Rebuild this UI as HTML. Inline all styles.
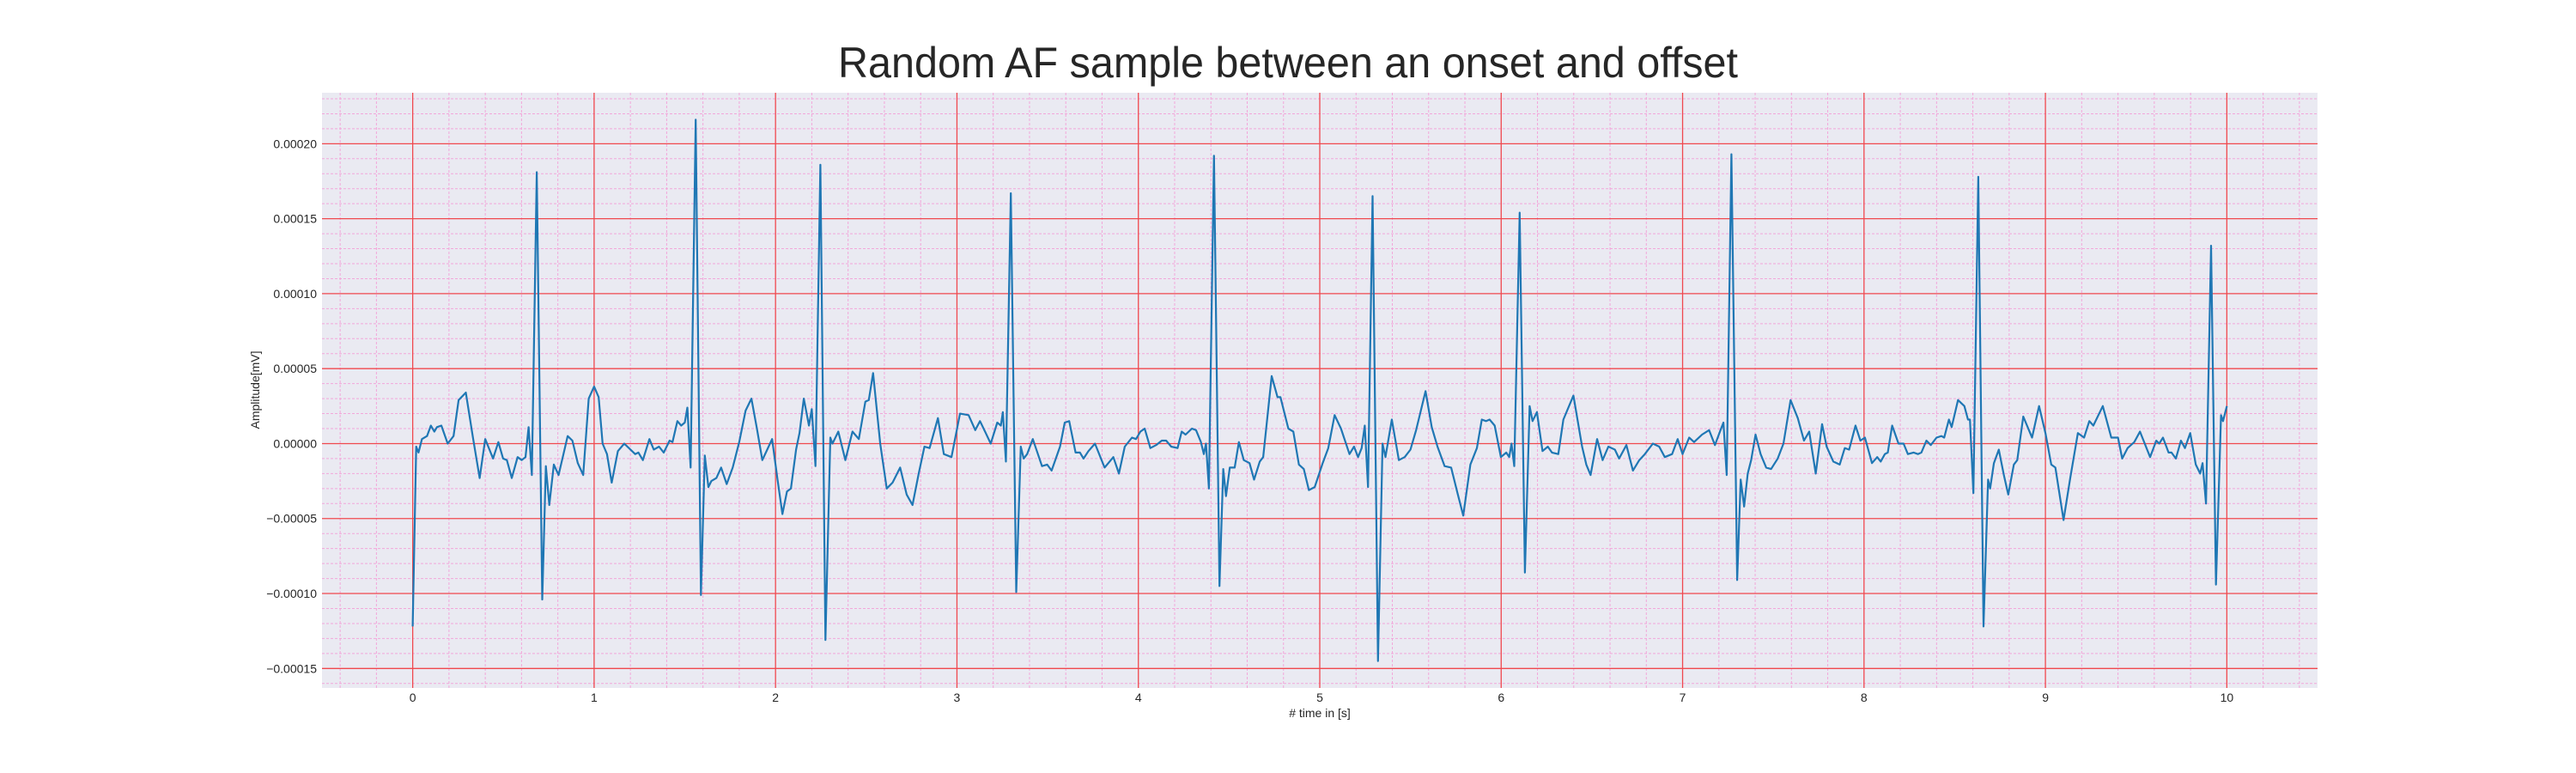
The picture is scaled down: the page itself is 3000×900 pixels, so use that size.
<!DOCTYPE html>
<html><head><meta charset="utf-8">
<style>
html,body{margin:0;padding:0;background:#fff;}
svg{display:block;font-family:"Liberation Sans",Arial,sans-serif;}
</style></head>
<body>
<svg id="chart" width="3000" height="900" viewBox="0 0 3000 900" xmlns="http://www.w3.org/2000/svg">
<text x="1500" y="90" text-anchor="middle" font-size="50" fill="#262626" textLength="1048" lengthAdjust="spacingAndGlyphs">Random AF sample between an onset and offset</text>
<rect x="375" y="108" width="2324" height="693" fill="#EAEAF2"/>
<g id="grid"></g>
<g id="ticks"></g>
<g id="series"></g>
<text transform="translate(302,454) rotate(-90)" text-anchor="middle" font-size="14" fill="#262626">Amplitude[mV]</text>
<text x="1537" y="835" text-anchor="middle" font-size="14" fill="#262626"># time in [s]</text>
</svg>
<script>
// data (time in s, amplitude in 1e-5 mV)
const times = [0,0.019,0.032,0.051,0.079,0.1,0.119,0.134,0.158,0.193,0.225,0.253,0.293,0.332,0.369,0.4,0.443,0.472,0.498,0.519,0.546,0.578,0.601,0.622,0.639,0.657,0.684,0.714,0.734,0.753,0.778,0.804,0.831,0.854,0.88,0.91,0.94,0.97,1.0,1.025,1.047,1.071,1.097,1.131,1.166,1.226,1.244,1.269,1.305,1.329,1.358,1.384,1.416,1.432,1.459,1.48,1.5,1.514,1.532,1.56,1.589,1.61,1.63,1.646,1.674,1.7,1.731,1.764,1.8,1.835,1.867,1.896,1.927,1.954,1.981,
2.011,2.038,2.063,2.085,2.113,2.132,2.156,2.184,2.2,2.22,2.247,2.275,2.302,2.314,2.346,2.385,2.424,2.459,2.495,2.514,2.538,2.577,2.613,2.645,2.687,2.723,2.755,2.789,2.821,2.849,2.895,2.928,2.97,3.017,3.064,3.101,3.127,3.159,3.186,3.222,3.242,3.253,3.27,3.297,3.327,3.352,3.368,3.387,3.418,3.469,3.497,3.522,3.568,3.594,3.619,3.654,3.678,3.698,3.725,3.761,3.814,3.862,3.893,3.925,3.965,3.987,
4.011,4.035,4.066,4.098,4.129,4.153,4.181,4.216,4.239,4.26,4.295,4.318,4.345,4.361,4.373,4.389,4.417,4.447,4.468,4.483,4.504,4.531,4.554,4.581,4.613,4.638,4.669,4.688,4.735,4.767,4.783,4.827,4.854,4.885,4.912,4.94,4.972,5.016,5.047,5.082,5.117,5.164,5.189,5.211,5.231,5.248,5.266,5.291,5.321,5.346,5.362,5.397,5.436,5.468,5.5,5.531,5.583,5.617,5.649,5.688,5.724,5.759,5.791,5.83,5.866,5.893,5.917,5.936,5.964,5.998,
6.028,6.044,6.057,6.072,6.102,6.131,6.157,6.173,6.197,6.228,6.257,6.28,6.315,6.343,6.398,6.446,6.469,6.493,6.529,6.559,6.591,6.627,6.65,6.69,6.726,6.761,6.792,6.836,6.871,6.902,6.942,6.973,7.0,7.036,7.063,7.107,7.146,7.178,7.209,7.225,7.243,7.269,7.301,7.32,7.339,7.359,7.378,7.402,7.43,7.461,7.488,7.524,7.556,7.595,7.635,7.669,7.698,7.734,7.769,7.794,7.831,7.866,7.894,7.918,7.953,7.98,8.005,
8.044,8.073,8.092,8.115,8.131,8.155,8.19,8.218,8.242,8.273,8.297,8.316,8.344,8.368,8.4,8.427,8.442,8.468,8.483,8.518,8.553,8.573,8.584,8.603,8.63,8.659,8.684,8.695,8.716,8.743,8.771,8.795,8.826,8.845,8.878,8.926,8.965,9.0,9.032,9.055,9.1,9.137,9.179,9.213,9.242,9.264,9.316,9.363,9.4,9.423,9.453,9.49,9.521,9.577,9.611,9.627,9.648,9.679,9.695,9.719,9.747,9.769,9.798,9.829,9.853,9.866,9.885,9.913,9.94,9.968,9.979,10.0];
const amps = [-12.2,-0.2,-0.6,0.3,0.5,1.2,0.8,1.1,1.2,0,0.5,2.9,3.4,0.4,-2.3,0.3,-1.0,0.1,-1.0,-1.1,-2.3,-0.9,-1.1,-0.9,1.1,-2.1,18.1,-10.4,-1.5,-4.1,-1.4,-2.1,-0.7,0.5,0.2,-1.3,-2.1,3.0,3.8,3.1,0,-0.7,-2.6,-0.5,0,-0.7,-0.6,-1.1,0.3,-0.4,-0.2,-0.6,0.2,0.1,1.5,1.2,1.4,2.4,-1.6,21.6,-10.1,-0.8,-2.9,-2.5,-2.3,-1.6,-2.7,-1.6,0.1,2.2,3.0,1.1,-1.1,-0.4,0.3,
-2.4,-4.7,-3.2,-3.0,-0.4,0.7,3.0,1.2,2.3,-1.5,18.6,-13.1,0.4,0,0.8,-1.1,0.8,0.3,2.8,2.9,4.7,0,-3.0,-2.6,-1.6,-3.4,-4.1,-2.0,-0.2,-0.3,1.7,-0.7,-0.9,2.0,1.9,0.9,1.5,0.7,0,1.4,1.2,2.1,-1.2,16.7,-9.9,-0.2,-1.0,-0.7,0.3,-1.5,-1.4,-1.8,-0.2,1.4,1.5,-0.6,-0.6,-1.0,-0.5,0,-1.6,-0.9,-2.0,-0.2,0.4,0.3,
0.8,1.0,-0.3,-0.1,0.2,0.2,-0.2,-0.3,0.8,0.6,1.0,0.9,0.1,-0.7,0,-3.0,19.2,-9.5,-1.7,-3.5,-1.6,-1.6,0.1,-1.1,-1.3,-2.4,-1.2,-0.9,4.5,3.1,3.1,1.0,0.8,-1.4,-1.7,-3.1,-2.9,-1.3,-0.3,1.9,1.0,-0.7,-0.2,-0.9,-0.3,1.2,-2.9,16.5,-14.5,0,-0.9,1.6,-1.1,-0.9,-0.4,0.9,3.5,1.1,-0.2,-1.5,-1.6,-3.3,-4.8,-1.4,-0.3,1.6,1.5,1.6,1.2,-0.9,
-0.6,-0.9,0,-1.5,15.4,-8.6,2.5,1.5,2.1,-0.5,-0.2,-0.6,-0.7,1.6,3.2,-0.2,-1.4,-2.1,0.3,-1.1,-0.2,-0.4,-1.0,-0.1,-1.8,-1.1,-0.7,0,-0.2,-0.9,-0.7,0.3,-0.7,0.4,0.1,0.6,0.9,-0.1,0.9,1.4,-2.1,19.3,-9.1,-2.4,-4.2,-2.0,-1.1,0.6,-0.7,-1.6,-1.7,-1.0,0,2.9,1.7,0.2,0.8,-2.0,1.3,-0.2,-1.2,-1.4,-0.3,-0.4,1.2,0.2,0.4,
-1.3,-0.9,-1.2,-0.7,-0.6,1.2,0,0,-0.7,-0.6,-0.7,-0.6,0.2,-0.1,0.4,0.5,0.4,1.6,1.1,2.9,2.5,1.6,1.6,-3.3,17.8,-12.2,-2.4,-3.0,-1.3,-0.4,-2.1,-3.4,-1.4,-1.1,1.8,0.4,2.5,0.7,-1.4,-1.6,-5.1,-2.3,0.7,0.4,1.5,1.2,2.5,0.4,0.4,-1.0,-0.3,0.1,0.8,-0.9,0.2,0,0.4,-0.6,-0.6,-1.0,0.2,-0.3,0.7,-1.4,-2.0,-1.3,-4.0,13.2,-9.4,1.9,1.5,2.5];
const xTicks = [0,1,2,3,4,5,6,7,8,9,10];
const yTicks = [-15,-10,-5,0,5,10,15,20];
const yTickLabels = ["\u22120.00015","\u22120.00010","\u22120.00005","0.00000","0.00005","0.00010","0.00015","0.00020"];

const X0=375, X1=2699, Y0=108, Y1=801;
const xMin=-0.5, xMax=10.5, yMin=-16.3, yMax=23.4;
function sx(t){return X0+(t-xMin)/(xMax-xMin)*(X1-X0);}
function sy(v){return Y1-(v-yMin)/(yMax-yMin)*(Y1-Y0);}
const NS="http://www.w3.org/2000/svg";
const grid=document.getElementById('grid');
const ticks=document.getElementById('ticks');
function ln(x1,y1,x2,y2,stroke,w,dash){
  const l=document.createElementNS(NS,'line');
  l.setAttribute('x1',x1);l.setAttribute('y1',y1);l.setAttribute('x2',x2);l.setAttribute('y2',y2);
  l.setAttribute('stroke',stroke);l.setAttribute('stroke-width',w);
  if(dash)l.setAttribute('stroke-dasharray',dash);
  return l;
}
// minor grid
for(let i=Math.ceil(xMin*5);i<=Math.floor(xMax*5);i++){
  if(i%5===0)continue;
  const l=ln(sx(i/5),Y0,sx(i/5),Y1,'#F2A7DA',1,'3,2');
  
  
  grid.appendChild(l);
}
for(let v=Math.ceil(yMin);v<=Math.floor(yMax);v++){
  if(v%5===0)continue;
  const l=ln(X0,sy(v),X1,sy(v),'#F2A7DA',1,'3,2');
  
  
  grid.appendChild(l);
}
// major grid + labels
xTicks.forEach(t=>{
  const l=ln(sx(t),Y0,sx(t),Y1,'#F0484E',1.3);
  
  
  grid.appendChild(l);
  const tx=document.createElementNS(NS,'text');
  tx.setAttribute('x',sx(t));tx.setAttribute('y',817);
  tx.setAttribute('text-anchor','middle');tx.setAttribute('font-size','14');tx.setAttribute('fill','#262626');
  tx.textContent=String(t);
  
  
  ticks.appendChild(tx);
});
yTicks.forEach((v,i)=>{
  const l=ln(X0,sy(v),X1,sy(v),'#F0484E',1.3);
  
  
  grid.appendChild(l);
  const tx=document.createElementNS(NS,'text');
  tx.setAttribute('x',369);tx.setAttribute('y',sy(v)+5);
  tx.setAttribute('text-anchor','end');tx.setAttribute('font-size','14');tx.setAttribute('fill','#262626');
  tx.textContent=yTickLabels[i];
  
  
  ticks.appendChild(tx);
});
// series
const pts=times.map((t,i)=>sx(t).toFixed(1)+','+sy(amps[i]).toFixed(1)).join(' ');
const pl=document.createElementNS(NS,'polyline');
pl.setAttribute('points',pts);
pl.setAttribute('fill','none');pl.setAttribute('stroke','#1f77b4');
pl.setAttribute('stroke-width','2.2');pl.setAttribute('stroke-linejoin','round');


document.getElementById('series').appendChild(pl);
</script>
</body></html>
